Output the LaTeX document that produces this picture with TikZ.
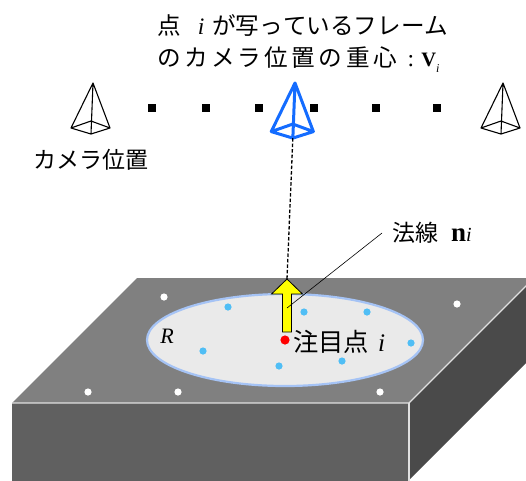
\documentclass[tikz,border=0pt]{standalone}
\usepackage{fontspec}
\setmainfont{Noto Sans CJK JP}[Kerning=Off]
\newfontfamily\serif{Liberation Serif}
\newfontfamily\spacedcjk{Noto Sans CJK JP}[Kerning=Off, LetterSpace=14]
\usetikzlibrary{shapes.geometric}

\definecolor{topface}{RGB}{128,128,128}
\definecolor{frontface}{RGB}{96,96,96}
\definecolor{sideface}{RGB}{74,74,74}
\definecolor{edgeline}{RGB}{225,225,225}
\definecolor{regionfill}{RGB}{234,234,234}
\definecolor{regionedge}{RGB}{165,195,245}
\definecolor{sample}{RGB}{80,190,245}
\definecolor{camblue}{RGB}{20,108,255}
\definecolor{arrowyellow}{RGB}{255,255,0}

\newcommand\fsz[1]{\fontsize{#1}{#1}\selectfont}

\tikzset{
  label/.style={inner sep=2pt, font=\fsz{23}},
  cambody/.style={line join=round, line cap=round},
  camera/.pic={
    \coordinate (-apex)  at (0,0);
    \coordinate (-left)  at (-22,45);
    \coordinate (-back)  at (-2,38);
    \coordinate (-right) at (17,45);
    \coordinate (-front) at (-2,51);
    \draw[pic actions] (-left) -- (-apex) -- (-right)
      (-apex) -- (-front)
      (-left) -- (-back) -- (-right) -- (-front) -- cycle;
  },
  marker/.style={fill=black, minimum size=8pt, inner sep=0pt},
  dotw/.style={fill=white},
  dotb/.style={fill=sample},
}

\begin{document}
\begin{tikzpicture}[x=1pt, y=-1pt]
\useasboundingbox (0,0) rectangle (526,480);

% slab
\begin{scope}
  \clip (0,0) rectangle (526,480);
  \fill[topface] (137,278) -- (534,278) -- (409,403) -- (12,403) -- cycle;
  \fill[frontface] (12,403) rectangle (409,490);
  \fill[sideface] (409,403) -- (534,278) -- (534,355) -- (409,480) -- cycle;
  \draw[edgeline, line width=1.2pt] (12,403) -- (409,403) -- (534,278);
  \draw[edgeline, line width=1.2pt] (409,403) -- (409,490);
\end{scope}

% neighbourhood region R
\node[ellipse, draw=regionedge, line width=2.2pt, fill=regionfill,
      minimum width=276pt, minimum height=92pt, inner sep=0pt]
  (region) at (285,340) {};

% samples outside and inside the region
\foreach \px/\py in {164/297, 457/304, 88/392, 178/392, 380/392}
  \fill[dotw] (\px,\py) circle (3.6pt);
\foreach \px/\py in {228/307, 304/312, 367/312, 203/351, 411/343, 342/361, 279/366}
  \fill[dotb] (\px,\py) circle (3.6pt);

% row of camera positions
\foreach \mx [count=\k] in {152,206,259,314,376,437}
  \node[marker] (m\k) at (\mx,108) {};
\pic (camL) [draw=black, line width=1.1pt, cambody] at (93,83) {camera};
\pic (camR) [draw=black, line width=1.1pt, cambody] at (503,83) {camera};
\pic (camC) [draw=camblue, line width=3pt, cambody, scale=1.08] at (295,83) {camera};

% normal arrow at the point of interest
\coordinate (arrowtip) at (287,279);
\coordinate (normfoot) at (287,308);
\draw[line width=1.3pt, dash pattern=on 3.5pt off 2pt] (camC-front) -- (arrowtip);
\draw[fill=arrowyellow, line width=0.8pt, line join=miter]
  (282.5,332) -- (282.5,294) -- (271.5,294) -- (arrowtip) -- (302.5,294)
  -- (291.5,294) -- (291.5,332) -- cycle;
\fill[red] (285,340) circle (4.6pt);

% labels
\node[label, font=\fsz{23.6}, anchor=west] (title1) at (155,25)
  {点\hspace{17pt}{\serif\itshape i}\hspace{8pt}が写っているフレーム};
\node[label, font=\fsz{23.6}\spacedcjk, anchor=west] (title2) at (155,60)
  {のカメラ位置の\hspace{4pt}重心\hspace{11pt}{\serif :}\hspace{7pt}{\serif\bfseries\fsz{20.5}V}\raisebox{-0.45ex}{\fsz{12}\serif\itshape i}};
\node[label, anchor=west] (camlabel) at (31,160) {カメラ位置};
\node[label, anchor=west, inner xsep=10pt] (normlabel) at (382,233)
  {法線\hspace{13pt}{\serif\bfseries\fsz{27}n}{\fsz{20}\serif\itshape i}};
\draw[line width=0.6pt] (normlabel.west) -- (normfoot);
\node[label, font=\fsz{22}\serif\itshape] (rlabel) at (167,336) {R};
\node[label, font=\fsz{25.3}, anchor=west] (poi) at (291,342)
  {注目点\hspace{9pt}{\serif\itshape i}};
\end{tikzpicture}
\end{document}
